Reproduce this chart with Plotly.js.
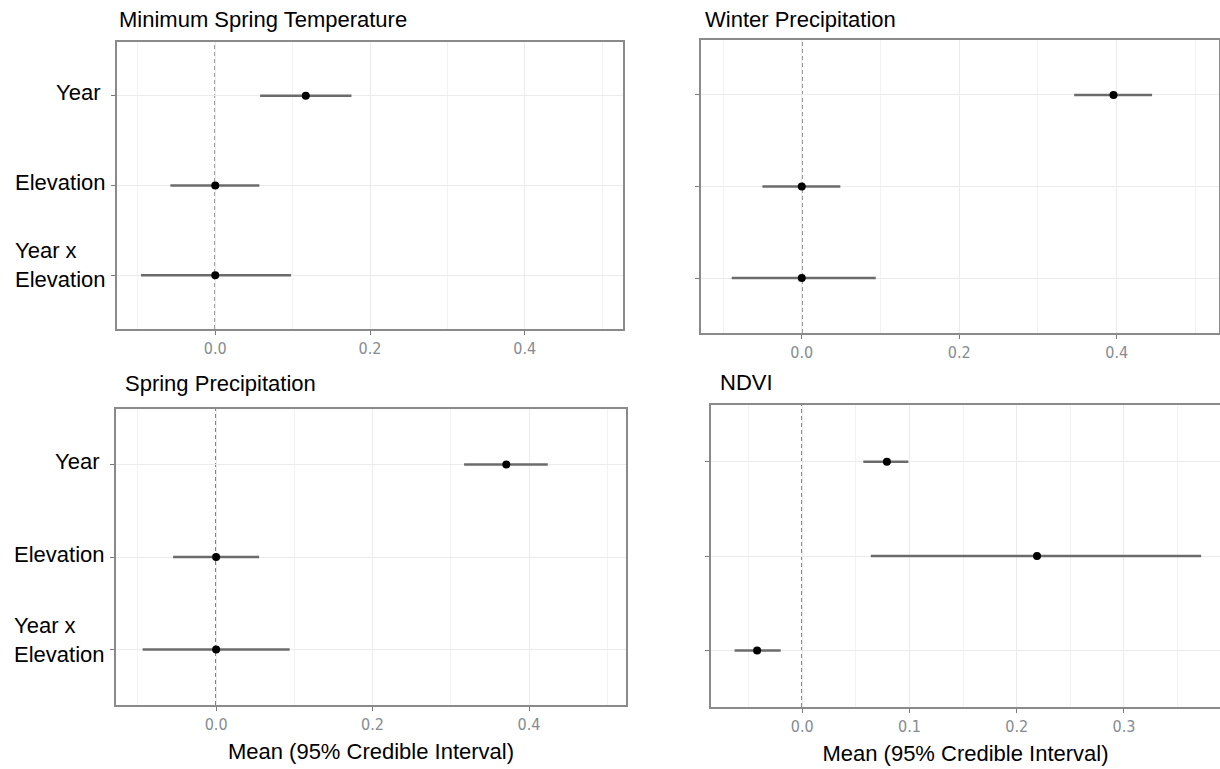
<!DOCTYPE html>
<html><head><meta charset="utf-8">
<script src="https://cdn.plot.ly/plotly-3.0.1.min.js"></script>
<style>html,body{margin:0;padding:0;background:#fff}</style>
</head><body><div id="chart" style="width:1220px;height:769px"></div>
<script>
// ---------- data ----------
const terms = ["Year", "Elevation", "Year x Elevation"];
const termLabels = ["Year", "Elevation", "Year x<br>Elevation"];
const panelTitles = ["Minimum Spring Temperature", "Winter Precipitation", "Spring Precipitation", "NDVI"];
const xTitle = "Mean (95% Credible Interval)";

const minSpringTempMean = [0.117, 0.000, 0.000];
const minSpringTempLow  = [0.058, -0.058, -0.096];
const minSpringTempHigh = [0.176, 0.057, 0.098];

const winterPrecipMean = [0.396, 0.000, 0.000];
const winterPrecipLow  = [0.346, -0.050, -0.089];
const winterPrecipHigh = [0.445, 0.049, 0.094];

const springPrecipMean = [0.371, 0.000, 0.000];
const springPrecipLow  = [0.317, -0.055, -0.094];
const springPrecipHigh = [0.424, 0.055, 0.094];

const ndviMean = [0.079, 0.219, -0.042];
const ndviLow  = [0.057, 0.064, -0.063];
const ndviHigh = [0.099, 0.372, -0.020];

const majorTicksA = [0, 0.2, 0.4];
const minorTicksA = [-0.1, 0.1, 0.3, 0.5];
const majorTicksB = [0, 0.1, 0.2, 0.3];
const minorTicksB = [-0.05, 0.05, 0.15, 0.25, 0.35];

// ---------- styling ----------
const W = 1220, H = 769;
const FONT = "Liberation Sans, Arial, sans-serif";
const TICKFONT = "Liberation Sans Narrow, DejaVu Sans Condensed, Liberation Sans, sans-serif";
const BORDER = "#8a8a8a";
const GRID = "#ebebeb";
const MINOR = "#f2f2f2";

function px(x) { return x / W; }
function py(y) { return 1 - y / H; }

const panels = [
  {mean: minSpringTempMean, lo: minSpringTempLow, hi: minSpringTempHigh, box: [117, 623, 42, 329], range: [-0.127, 0.527], major: majorTicksA, minor: minorTicksA, labels: true, title: [116.7, 19], xtitle: false},
  {mean: winterPrecipMean, lo: winterPrecipLow, hi: winterPrecipHigh, box: [701, 1219, 40, 333], range: [-0.128, 0.53], major: majorTicksA, minor: minorTicksA, labels: false, title: [703, 19], xtitle: false},
  {mean: springPrecipMean, lo: springPrecipLow, hi: springPrecipHigh, box: [116, 626, 409, 705], range: [-0.128, 0.524], major: majorTicksA, minor: minorTicksA, labels: true, title: [123, 383], xtitle: true},
  {mean: ndviMean, lo: ndviLow, hi: ndviHigh, box: [711, 1220, 405, 707], range: [-0.085, 0.3896], major: majorTicksB, minor: minorTicksB, labels: false, title: [718, 382], xtitle: true, noRight: true}
];

const data = [];
const layout = {
  width: W, height: H, autosize: false,
  margin: {l: 0, r: 0, t: 0, b: 0},
  paper_bgcolor: "#fff", plot_bgcolor: "#fff",
  showlegend: false,
  font: {family: FONT, color: "#000"},
  shapes: [], annotations: []
};

panels.forEach((p, i) => {
  const n = i === 0 ? "" : String(i + 1);
  const xa = "x" + n, ya = "y" + n;
  data.push({
    type: "scatter", mode: "markers",
    x: p.mean, y: terms, xaxis: xa, yaxis: ya,
    marker: {color: "#000", size: 8},
    error_x: {
      type: "data", symmetric: false,
      array: p.hi.map((h, k) => h - p.mean[k]),
      arrayminus: p.mean.map((m, k) => m - p.lo[k]),
      color: "#6b6b6b", thickness: 2.5, width: 0
    },
    hoverinfo: "skip", showlegend: false
  });
  const [l, r, t, b] = p.box;
  layout["xaxis" + n] = {
    domain: [px(l), Math.min(1, px(r))], anchor: ya,
    range: p.range, tickvals: p.major, tickformat: ".1f",
    ticks: "outside", ticklen: 4, tickcolor: "#7a7a7a", tickwidth: 1,
    tickfont: {family: TICKFONT, size: 16, color: "#858b93"},
    showgrid: true, gridcolor: GRID, gridwidth: 1,
    minor: {tickvals: p.minor, showgrid: true, gridcolor: MINOR, gridwidth: 1, ticks: ""},
    showline: true, mirror: true, linecolor: BORDER, linewidth: 2,
    zeroline: false, fixedrange: true,
    title: p.xtitle ? {text: xTitle, font: {family: FONT, size: 22, color: "#000"}, standoff: 10} : {text: ""}
  };
  layout["yaxis" + n] = {
    domain: [py(b), py(t)], anchor: xa,
    type: "category", categoryorder: "array", categoryarray: terms,
    range: [2.6, -0.6],
    showticklabels: false, ticks: "outside", ticklen: 4, tickcolor: "#7a7a7a", tickwidth: 1,
    showgrid: true, gridcolor: GRID, gridwidth: 1,
    showline: true, mirror: p.noRight ? false : true, linecolor: BORDER, linewidth: 2,
    zeroline: false, fixedrange: true
  };
  layout.shapes.push({
    type: "line", xref: xa, yref: ya + " domain",
    x0: 0, x1: 0, y0: 0, y1: 1,
    line: {color: "#2a2a2a", width: 1.4, dash: "4px,3px"}, layer: "below"
  });
  layout.annotations.push({
    xref: "paper", yref: "paper", x: px(p.title[0]), y: py(p.title[1]),
    xanchor: "left", yanchor: "middle", showarrow: false,
    text: panelTitles[i], font: {family: FONT, size: 22, color: "#000"}
  });
  if (p.labels) {
    termLabels.forEach((lab, k) => {
      const multi = lab.indexOf("<br>") >= 0;
      layout.annotations.push({
        xref: "paper", yref: ya, x: px(l - 9), y: k,
        xanchor: "right", yanchor: "middle", align: "left", showarrow: false,
        xshift: k === 0 ? -6 : 0, yshift: multi ? 10 : 3,
        text: lab, font: {family: FONT, size: 22, color: "#000"}
      });
    });
  }
});

Plotly.newPlot("chart", data, layout, {displayModeBar: false, staticPlot: true});
</script>
</body></html>
